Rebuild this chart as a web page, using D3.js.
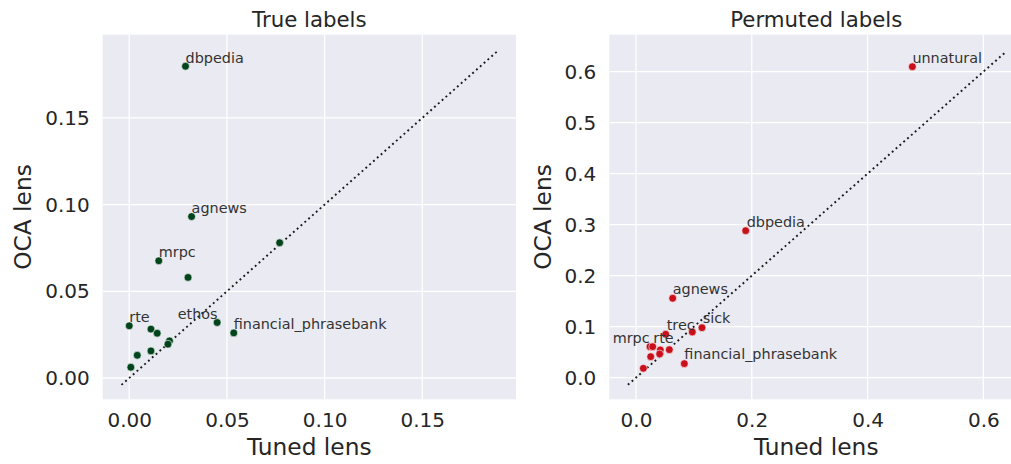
<!DOCTYPE html>
<html>
<head>
<meta charset="utf-8">
<script src="https://cdn.jsdelivr.net/npm/d3@7"></script>
<style>
  html, body { margin: 0; padding: 0; background: #ffffff; }
  svg { display: block; font-family: "DejaVu Sans", sans-serif; }
</style>
</head>
<body>
<svg id="chart" width="1011" height="464"></svg>
<script>
// ---------- DATA ----------
const trueTunedLens = [0.0288, 0.0319, 0.0770, 0.0151, 0.0301, 0.0450, 0.0535, 0.0000, 0.0111, 0.0143, 0.0206, 0.0198, 0.0111, 0.0041, 0.0008];
const trueOcaLens   = [0.1798, 0.0931, 0.0780, 0.0676, 0.0580, 0.0320, 0.0260, 0.0301, 0.0282, 0.0258, 0.0214, 0.0195, 0.0156, 0.0131, 0.0062];
const trueLabelNames = ["dbpedia", "agnews", "mrpc", "rte", "ethos", "financial_phrasebank"];
const trueLabelX     = [0.0288, 0.0319, 0.0151, 0.0000, 0.0248, 0.0535];
const trueLabelY     = [0.1817, 0.0954, 0.0699, 0.0324, 0.0343, 0.0282];
const trueDiag       = [-0.004, 0.1885];
const trueXTicks     = [0.00, 0.05, 0.10, 0.15];
const trueYTicks     = [0.00, 0.05, 0.10, 0.15];
const trueXDomain    = [-0.0136, 0.198];
const trueYDomain    = [-0.0123, 0.198];

const permTunedLens = [0.4774, 0.1895, 0.0634, 0.1140, 0.0973, 0.0513, 0.0242, 0.0288, 0.0420, 0.0576, 0.0409, 0.0254, 0.0127, 0.0835];
const permOcaLens   = [0.6098, 0.2882, 0.1557, 0.0980, 0.0896, 0.0851, 0.0608, 0.0608, 0.0543, 0.0549, 0.0465, 0.0412, 0.0184, 0.0275];
const permLabelNames = ["unnatural", "dbpedia", "agnews", "sick", "trec", "mrpc", "rte", "financial_phrasebank"];
const permLabelX     = [0.4774, 0.1912, 0.0634, 0.1152, 0.0530, -0.0403, 0.0299, 0.0835];
const permLabelY     = [0.6176, 0.2961, 0.1635, 0.1071, 0.0935, 0.0673, 0.0673, 0.0361];
const permDiag       = [-0.014, 0.640];
const permXTicks     = [0.0, 0.2, 0.4, 0.6];
const permYTicks     = [0.0, 0.1, 0.2, 0.3, 0.4, 0.5, 0.6];
const permXDomain    = [-0.0461, 0.669];
const permYDomain    = [-0.0424, 0.6725];

// ---------- LAYOUT ----------
const svg = d3.select("#chart");
const textColor = "#262626";

function panel(opts) {
  const { left, width, top, bottom, xDomain, yDomain, xTicks, yTicks, fmtX, fmtY,
          xs, ys, names, lx, ly, diag, color, title, yLabelX } = opts;
  const x = d3.scaleLinear().domain(xDomain).range([left, left + width]);
  const y = d3.scaleLinear().domain(yDomain).range([bottom, top]);
  const g = svg.append("g");

  g.append("rect").attr("x", left).attr("y", top)
    .attr("width", width).attr("height", bottom - top).attr("fill", "#eaeaf2");

  // grid
  g.append("g").selectAll("line").data(xTicks).join("line")
    .attr("x1", d => x(d)).attr("x2", d => x(d))
    .attr("y1", top).attr("y2", bottom)
    .attr("stroke", "#ffffff").attr("stroke-width", 1.3);
  g.append("g").selectAll("line").data(yTicks).join("line")
    .attr("x1", left).attr("x2", left + width)
    .attr("y1", d => y(d)).attr("y2", d => y(d))
    .attr("stroke", "#ffffff").attr("stroke-width", 1.3);

  // axes (tick labels only, seaborn style)
  const xAxis = d3.axisBottom(x).tickValues(xTicks).tickFormat(fmtX).tickSize(0).tickPadding(14);
  const xg = g.append("g").attr("transform", `translate(0,${bottom})`).call(xAxis);
  xg.select(".domain").remove();
  xg.selectAll("text").attr("font-size", 20).attr("fill", textColor)
    .attr("font-family", "DejaVu Sans");

  const yAxis = d3.axisLeft(y).tickValues(yTicks).tickFormat(fmtY).tickSize(0).tickPadding(13);
  const yg = g.append("g").attr("transform", `translate(${left},0)`).call(yAxis);
  yg.select(".domain").remove();
  yg.selectAll("text").attr("font-size", 20).attr("fill", textColor)
    .attr("font-family", "DejaVu Sans");

  // diagonal
  g.append("line")
    .attr("x1", x(diag[0])).attr("y1", y(diag[0]))
    .attr("x2", x(diag[1])).attr("y2", y(diag[1]))
    .attr("stroke", "#1a1a1a").attr("stroke-width", 1.9)
    .attr("stroke-dasharray", "1.9,3.2");

  // points
  g.append("g").selectAll("circle").data(xs.map((v, i) => [v, ys[i]])).join("circle")
    .attr("cx", d => x(d[0])).attr("cy", d => y(d[1]))
    .attr("r", 3.9).attr("fill", color)
    .attr("stroke", "#ffffff").attr("stroke-width", 0.6);

  // labels
  g.append("g").selectAll("text").data(names.map((n, i) => [n, lx[i], ly[i]])).join("text")
    .attr("x", d => x(d[1])).attr("y", d => y(d[2]))
    .attr("font-size", 14.4).attr("fill", "#333333")
    .text(d => d[0]);

  // title
  g.append("text").attr("x", left + width / 2).attr("y", 27)
    .attr("text-anchor", "middle").attr("font-size", 21.3).attr("fill", textColor)
    .text(title);

  // x label
  g.append("text").attr("x", left + width / 2).attr("y", 455)
    .attr("text-anchor", "middle").attr("font-size", 23.3).attr("fill", textColor)
    .text("Tuned lens");

  // y label
  g.append("text")
    .attr("transform", `translate(${yLabelX},${(top + bottom) / 2}) rotate(-90)`)
    .attr("text-anchor", "middle").attr("font-size", 23.3).attr("fill", textColor)
    .text("OCA lens");
}

panel({
  left: 102.7, width: 413.3, top: 34.7, bottom: 399.3,
  xDomain: trueXDomain, yDomain: trueYDomain, xTicks: trueXTicks, yTicks: trueYTicks,
  fmtX: d3.format(".2f"), fmtY: d3.format(".2f"),
  xs: trueTunedLens, ys: trueOcaLens, names: trueLabelNames, lx: trueLabelX, ly: trueLabelY,
  diag: trueDiag, color: "#00441b", title: "True labels", yLabelX: 31
});

panel({
  left: 609.3, width: 414, top: 34.7, bottom: 399.3,
  xDomain: permXDomain, yDomain: permYDomain, xTicks: permXTicks, yTicks: permYTicks,
  fmtX: d3.format(".1f"), fmtY: d3.format(".1f"),
  xs: permTunedLens, ys: permOcaLens, names: permLabelNames, lx: permLabelX, ly: permLabelY,
  diag: permDiag, color: "#c8101b", title: "Permuted labels", yLabelX: 551
});
</script>
</body>
</html>
